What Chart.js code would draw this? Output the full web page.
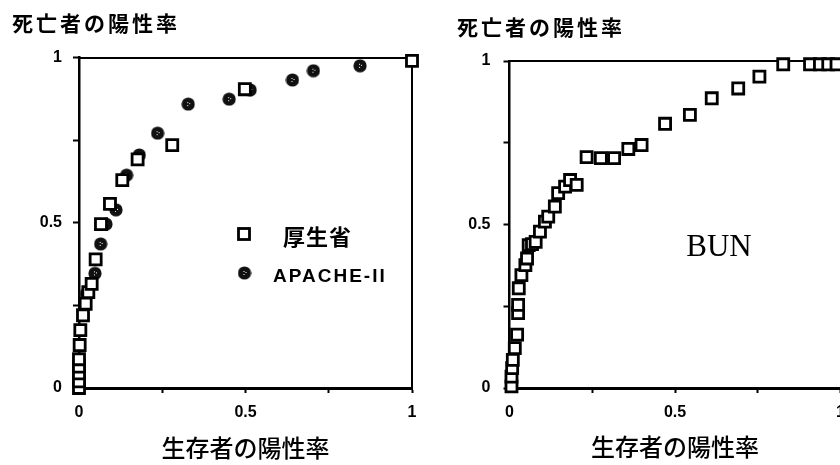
<!DOCTYPE html>
<html><head><meta charset="utf-8">
<script src="https://cdn.jsdelivr.net/npm/chart.js@4/dist/chart.umd.min.js"></script>
<style>
html,body{margin:0;padding:0;background:#fff;overflow:hidden;width:840px;height:465px;}
#wrapL{position:absolute;left:0;top:0;width:432px;height:465px;}
#wrapR{position:absolute;left:420px;top:0;width:440px;height:465px;}
</style></head><body>
<div id="wrapL"><canvas id="cL" width="432" height="465"></canvas></div>
<div id="wrapR"><canvas id="cR" width="440" height="465"></canvas></div>
<script>
// ---- text ----
const yTitle = '死亡者の陽性率';
const xTitle = '生存者の陽性率';
const tickValues = [0, 0.5, 1];
const tickLabels = ['0', '0.5', '1'];
const kouseishoLabel = '厚生省';
const apacheLabel = 'APACHE-II';
const bunLabel = 'BUN';

// ---- left chart data ----
const kouseishoX = [0,0,0,0,0,0.002,0.004,0.012,0.02,0.028,0.038,0.05,0.066,0.093,0.13,0.176,0.28,0.498,1.0];
const kouseishoY = [0,0.02,0.044,0.065,0.087,0.13,0.175,0.22,0.255,0.29,0.315,0.389,0.496,0.557,0.629,0.692,0.735,0.904,0.99];
const apacheX = [0.022,0.048,0.065,0.081,0.111,0.143,0.181,0.236,0.328,0.451,0.514,0.641,0.704,0.844];
const apacheY = [0.285,0.347,0.436,0.496,0.539,0.644,0.705,0.771,0.859,0.874,0.902,0.932,0.960,0.975];

// ---- right chart data ----
const bunX = [0.006,0.006,0.008,0.010,0.016,0.023,0.026,0.026,0.028,0.036,0.048,0.053,0.058,0.068,0.079,0.092,0.107,0.117,0.137,0.147,0.168,0.183,0.203,0.233,0.276,0.316,0.359,0.399,0.470,0.545,0.611,0.691,0.755,0.827,0.908,0.938,0.963,0.988];
const bunY = [0.005,0.035,0.061,0.086,0.122,0.163,0.229,0.254,0.305,0.345,0.376,0.396,0.437,0.44,0.447,0.478,0.509,0.524,0.555,0.596,0.616,0.636,0.621,0.706,0.703,0.703,0.731,0.743,0.808,0.835,0.886,0.916,0.952,0.99,0.99,0.99,0.99,0.99];

function pts(xs, ys){ return xs.map((x,i)=>({x:x, y:ys[i]})); }
function tickCb(v){
  const i = tickValues.findIndex(t => Math.abs(t - v) < 1e-9);
  return i >= 0 ? tickLabels[i] : '';
}

// dark dotted circle marker
function makeDot(){
  const c = document.createElement('canvas');
  c.width = 14; c.height = 14;
  const g = c.getContext('2d');
  g.fillStyle = '#111';
  g.beginPath(); g.arc(7,7,6.6,0,Math.PI*2); g.fill();
  g.fillStyle = '#fff';
  g.fillRect(6,5,1,1); g.fillRect(8,6,1,1); g.fillRect(6,8,1,1);
  return c;
}
const dotImg = makeDot();

function makeScales(o){
  const tickFont = {family:'"Liberation Sans", Arial, sans-serif', size:16, weight:'bold'};
  return {
    x: {
      type:'linear', position:'bottom', min:0, max:1,
      afterFit: s => { s.height = o.xHeight; },
      ticks:{stepSize:0.25, autoSkip:false, maxRotation:0, callback:tickCb, color:'#000', font:tickFont, padding:10},
      grid:{drawOnChartArea:false, drawTicks:true, tickLength:5, tickWidth:2, tickColor:'#000', color:'#000'},
      border:{display:true, color:'#000', width:3},
      title:{display:true, text:xTitle, color:'#000', font:{family:'"Noto Sans CJK JP", sans-serif', size:24, weight:'500'}, padding:{top:0, bottom:o.xTitlePad}}
    },
    y: {
      type:'linear', position:'left', min:0, max:1,
      afterFit: s => { s.width = o.yWidth; },
      ticks:{stepSize:0.25, autoSkip:false, callback:tickCb, color:'#000', font:tickFont, padding:o.yTickPad},
      grid:{drawOnChartArea:false, drawTicks:true, tickLength:6, tickWidth:2, tickColor:'#000', color:'#000'},
      border:{display:true, color:'#000', width:2.5}
    },
    xTop: {
      type:'linear', position:'top', min:0, max:1,
      afterFit: s => { s.height = 0; },
      ticks:{display:false}, grid:{display:false},
      border:{display:true, color:'#000', width:2}
    },
    yRight: {
      type:'linear', position:'right', min:0, max:1,
      afterFit: s => { s.width = 0; },
      ticks:{display:false}, grid:{display:false},
      border:{display:true, color:'#000', width:2}
    }
  };
}

const squareStyle = {pointStyle:'rect', pointRadius:7.8, pointHoverRadius:7.8, borderWidth:2.8, borderColor:'#000', backgroundColor:'#fff', pointBorderColor:'#000', pointBackgroundColor:'#fff', showLine:false, clip:false};

const leftText = {
  id:'leftText',
  afterDraw(chart){
    const ctx = chart.ctx;
    ctx.save();
    ctx.fillStyle = '#000';
    ctx.textBaseline = 'middle';
    ctx.textAlign = 'left';
    ctx.font = 'bold 21px "Noto Sans CJK JP", sans-serif';
    ctx.letterSpacing = '3px';
    ctx.fillText(yTitle, 12, 23);
    // legend
    ctx.lineWidth = 2.8; ctx.strokeStyle = '#000';
    ctx.strokeRect(238.5, 228.5, 11, 11);
    ctx.font = 'bold 22px "Noto Sans CJK JP", sans-serif';
    ctx.letterSpacing = '1px';
    ctx.fillText(kouseishoLabel, 283, 236.5);
    ctx.drawImage(dotImg, 237.5, 266);
    ctx.font = 'bold 19px "Liberation Sans", Arial, sans-serif';
    ctx.letterSpacing = '2px';
    ctx.fillText(apacheLabel, 273, 277);
    ctx.restore();
  }
};

const rightText = {
  id:'rightText',
  afterDraw(chart){
    const ctx = chart.ctx;
    ctx.save();
    ctx.fillStyle = '#000';
    ctx.textBaseline = 'middle';
    ctx.textAlign = 'left';
    ctx.font = 'bold 21px "Noto Sans CJK JP", sans-serif';
    ctx.letterSpacing = '3px';
    ctx.fillText(yTitle, 37, 27.5);
    ctx.letterSpacing = '0px';
    ctx.font = '31px "Liberation Serif", "Times New Roman", serif';
    ctx.textAlign = 'center';
    ctx.fillText(bunLabel, 299, 247.5);
    ctx.restore();
  }
};

const common = {
  responsive:false, animation:false,
  plugins:{legend:{display:false}, tooltip:{enabled:false}, title:{display:false}}
};

new Chart(document.getElementById('cL'), {
  type:'scatter',
  data:{datasets:[
    Object.assign({label:kouseishoLabel, data:pts(kouseishoX, kouseishoY)}, squareStyle),
    {label:apacheLabel, data:pts(apacheX, apacheY), pointStyle:dotImg, pointRadius:7, showLine:false, clip:false}
  ]},
  options:Object.assign({}, common, {
    layout:{padding:{left:0, right:20, top:57.5, bottom:0}},
    scales:makeScales({xHeight:77, yWidth:79, yTickPad:11, xTitlePad:3})
  }),
  plugins:[leftText]
});

new Chart(document.getElementById('cR'), {
  type:'scatter',
  data:{datasets:[
    Object.assign({label:bunLabel, data:pts(bunX, bunY)}, squareStyle)
  ]},
  options:Object.assign({}, common, {
    layout:{padding:{left:0, right:19.5, top:61, bottom:0}},
    scales:makeScales({xHeight:77, yWidth:89.5, yTickPad:13, xTitlePad:4})
  }),
  plugins:[rightText]
});
</script>
</body></html>
